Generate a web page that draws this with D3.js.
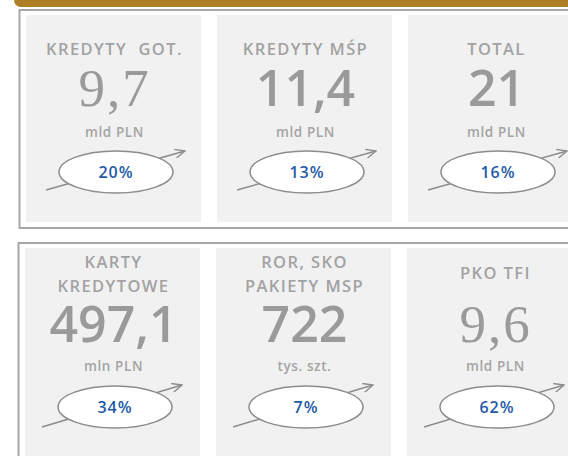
<!DOCTYPE html>
<html>
<head>
<meta charset="utf-8">
<script src="https://cdn.jsdelivr.net/npm/d3@7"></script>
<style>
  body { margin: 0; background: #fff; }
  svg { display: block; }
  text { font-family: "Open Sans", sans-serif; white-space: pre; }
  text.serif { font-family: "Liberation Serif", "DejaVu Serif", serif; }
</style>
</head>
<body>
<div id="tiles"></div>
<script>
// tile contents, row by row
var titles = [["KREDYTY  GOT."], ["KREDYTY MŚP"], ["TOTAL"],
              ["KARTY", "KREDYTOWE"], ["ROR, SKO", "PAKIETY MSP"], ["PKO TFI"]];
var values = ["9,7", "11,4", "21", "497,1", "722", "9,6"];
var units = ["mld PLN", "mld PLN", "mld PLN", "mln PLN", "tys. szt.", "mld PLN"];
var growth = [20, 13, 16, 34, 7, 62];

var width = 568, height = 456;

var svg = d3.select("#tiles").append("svg")
  .attr("width", width)
  .attr("height", height);

svg.append("defs").append("marker")
  .attr("id", "head")
  .attr("viewBox", "0 0 12 10")
  .attr("refX", 11).attr("refY", 5)
  .attr("markerWidth", 12).attr("markerHeight", 10)
  .attr("markerUnits", "userSpaceOnUse")
  .attr("orient", "auto")
  .append("path")
  .attr("d", "M1,0.5 L11,5 L1,9.5")
  .attr("fill", "none")
  .attr("stroke", "#8c8c8c")
  .attr("stroke-width", 1.4);

// gold header strip
svg.append("path")
  .attr("d", "M14,0 H568 V7 H21 A7,7 0 0 1 14,0 Z")
  .attr("fill", "#ad7f22");

// columns and rows
var x = d3.scaleBand().domain([0, 1, 2]).range([26, 583]).paddingInner(16 / 191);
var rowTop = [15, 248];
var rowBox = [[10, 228], [243, 470]];

// grey outline of each row
rowBox.forEach(function (b, i) {
  svg.append("rect")
    .attr("x", i === 0 ? 19.5 : 18.5).attr("y", b[0])
    .attr("width", 600).attr("height", b[1] - b[0])
    .attr("fill", "none")
    .attr("stroke", "#a8a8a8")
    .attr("stroke-width", 2);
});

var tiles = svg.selectAll("g.tile")
  .data(values.map(function (v, i) { return i; }))
  .enter().append("g")
  .attr("class", "tile")
  .attr("transform", function (i) {
    var r = Math.floor(i / 3);
    return "translate(" + (x(i % 3) - r) + "," + rowTop[r] + ")";
  });

tiles.append("rect")
  .attr("width", x.bandwidth())
  .attr("height", function (i) { return i < 3 ? 207 : 230; })
  .attr("fill", "#f1f1f1");

var cx = x.bandwidth() / 2 + 1;

// title (one or two lines)
tiles.each(function (i) {
  var g = d3.select(this);
  var lines = titles[i];
  var base = i < 3 ? 40 : (lines.length === 1 ? 31 : 20);
  lines.forEach(function (t, k) {
    g.append("text")
      .attr("x", cx).attr("y", base + k * 24)
      .attr("text-anchor", "middle")
      .attr("font-size", 16.5)
      .attr("font-weight", 600)
      .attr("letter-spacing", 1.4)
      .attr("fill", "#a2a2a2")
      .text(t);
  });
});

// big value
tiles.append("text")
  .attr("class", function (i) { return values[i].charAt(0) === "9" ? "serif" : null; })
  .attr("x", cx)
  .attr("y", function (i) { return i < 3 ? 91 : 94; })
  .attr("text-anchor", "middle")
  .attr("font-size", function (i) { return values[i].charAt(0) === "9" ? 53 : 50; })
  .attr("font-weight", function (i) { return values[i].charAt(0) === "9" ? 400 : 600; })
  .attr("letter-spacing", function (i) { return values[i].charAt(0) === "9" ? 2 : 0; })
  .attr("fill", "#9a9a9a")
  .text(function (i) { return values[i]; });

// unit
tiles.append("text")
  .attr("x", cx)
  .attr("y", function (i) { return i < 3 ? 121.5 : 123; })
  .attr("text-anchor", "middle")
  .attr("font-size", 13.5)
  .attr("font-weight", 600)
  .attr("letter-spacing", 0.6)
  .attr("fill", "#a4a4a4")
  .text(function (i) { return units[i]; });

// growth arrow behind the ellipse
tiles.append("line")
  .attr("x1", function (i) { return i < 3 ? 20 : 17; })
  .attr("y1", function (i) { return i < 3 ? 175 : 179; })
  .attr("x2", function (i) { return i < 3 ? 159 : 157; })
  .attr("y2", function (i) { return i < 3 ? 136 : 137; })
  .attr("stroke", "#8c8c8c")
  .attr("stroke-width", 1.4)
  .attr("marker-end", "url(#head)");

tiles.append("ellipse")
  .attr("cx", cx + 1.5)
  .attr("cy", function (i) { return i < 3 ? 157 : 159; })
  .attr("rx", 57).attr("ry", 21)
  .attr("fill", "#fff")
  .attr("stroke", "#8c8c8c")
  .attr("stroke-width", 1.5);

tiles.append("text")
  .attr("x", cx + 1.5)
  .attr("y", function (i) { return i < 3 ? 162.5 : 164.5; })
  .attr("text-anchor", "middle")
  .attr("font-size", 16)
  .attr("font-weight", 600)
  .attr("letter-spacing", 1)
  .attr("fill", "#1f5aa6")
  .text(function (i) { return growth[i] + "%"; });
</script>
</body>
</html>
